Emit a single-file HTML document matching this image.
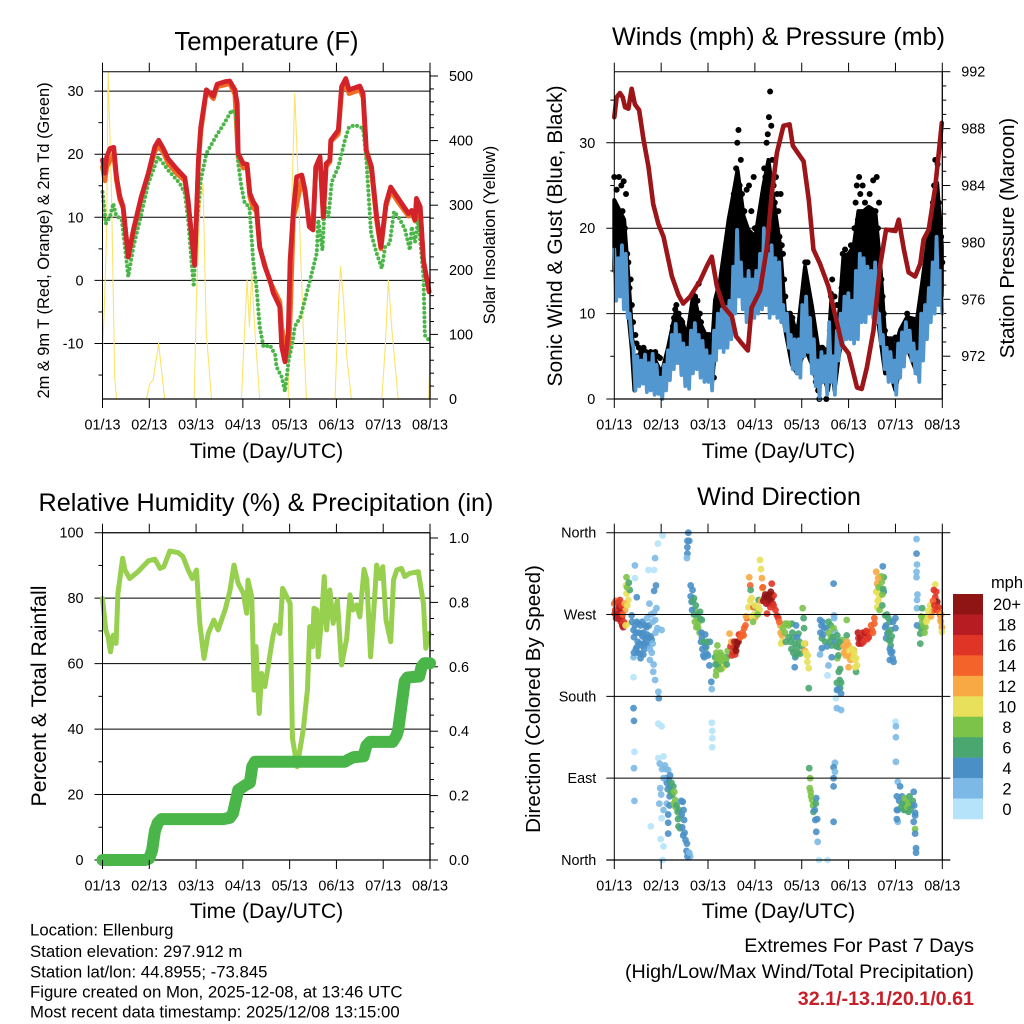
<!DOCTYPE html>
<html lang="en">
<head>
<meta charset="utf-8">
<title>Station Meteogram</title>
<style>
html,body{margin:0;padding:0;background:#fff;}
svg{display:block;font-family:"Liberation Sans",Arial,sans-serif;fill:#000;}
</style>
</head>
<body>
<svg id="chart" xmlns="http://www.w3.org/2000/svg" width="1024" height="1024" viewBox="0 0 1024 1024">
<rect x="0" y="0" width="1024" height="1024" fill="#fff"/>
<g id="g-tl"></g>
<g id="g-tr"></g>
<g id="g-bl"></g>
<g id="g-br"></g>

<text x="266.5" y="50" font-size="25.7" text-anchor="middle">Temperature (F)</text>
<text x="778.5" y="45" font-size="25.2" text-anchor="middle">Winds (mph) &amp; Pressure (mb)</text>
<text x="266" y="511" font-size="25.2" text-anchor="middle">Relative Humidity (%) &amp; Precipitation (in)</text>
<text x="779" y="505" font-size="25.2" text-anchor="middle">Wind Direction</text>

<text x="266.5" y="458" font-size="21.2" text-anchor="middle">Time (Day/UTC)</text>
<text x="778.5" y="458" font-size="21.2" text-anchor="middle">Time (Day/UTC)</text>
<text x="266.5" y="918" font-size="21.2" text-anchor="middle">Time (Day/UTC)</text>
<text x="778.5" y="918" font-size="21.2" text-anchor="middle">Time (Day/UTC)</text>

<text transform="translate(49,240.5) rotate(-90)" font-size="16.4" text-anchor="middle">2m &amp; 9m T (Red, Orange) &amp; 2m Td (Green)</text>
<text transform="translate(495,235) rotate(-90)" font-size="16.7" text-anchor="middle">Solar Insolation (Yellow)</text>
<text transform="translate(562,236) rotate(-90)" font-size="21" text-anchor="middle">Sonic Wind &amp; Gust (Blue, Black)</text>
<text transform="translate(1014,238) rotate(-90)" font-size="20.5" text-anchor="middle">Station Pressure (Maroon)</text>
<text transform="translate(46,696) rotate(-90)" font-size="21.3" text-anchor="middle">Percent &amp; Total Rainfall</text>
<text transform="translate(540,699) rotate(-90)" font-size="20.6" text-anchor="middle">Direction (Colored By Speed)</text>

<g font-size="16.75">
<text x="30" y="935.5">Location: Ellenburg</text>
<text x="30" y="957">Station elevation: 297.912 m</text>
<text x="30" y="977.5">Station lat/lon: 44.8955; -73.845</text>
<text x="30" y="997.5">Figure created on Mon, 2025-12-08, at 13:46 UTC</text>
<text x="30" y="1017.5">Most recent data timestamp: 2025/12/08 13:15:00</text>
</g>
<g text-anchor="end" font-size="19.7">
<text x="974" y="952">Extremes For Past 7 Days</text>
<text x="974" y="978">(High/Low/Max Wind/Total Precipitation)</text>
<text x="974" y="1005" font-weight="bold" fill="#c8202a">32.1/-13.1/20.1/0.61</text>
</g>
</svg>
<script>
/* ---------- shared axis labels ---------- */
const timeTicks = ["01/13","02/13","03/13","04/13","05/13","06/13","07/13","08/13"];

/* ---------- temperature panel ---------- */
const tempTicks = [30,20,10,0,-10];
const tempMinorTicks = [25,15,5,-5,-15];
const solarTicks = [500,400,300,200,100,0];
const solarMinorTicks = [480,460,440,420,380,360,340,320,280,260,240,220,180,160,140,120,80,60,40,20];

const redDays = [0,.05,.09,.16,.24,.30,.37,.44,.55,.66,.83,.98,1.12,1.20,1.30,1.40,1.58,1.76,1.83,1.90,1.97,2.05,2.10,2.22,2.37,2.45,2.62,2.72,2.83,2.88,2.90,3.01,3.09,3.15,3.22,3.29,3.36,3.47,3.58,3.65,3.79,3.83,3.90,3.97,4.01,4.08,4.15,4.26,4.33,4.42,4.50,4.56,4.65,4.72,4.78,4.86,4.88,5.04,5.11,5.20,5.27,5.50,5.57,5.64,5.75,5.86,5.95,6.06,6.16,6.32,6.54,6.61,6.68,6.71,6.79,6.86,6.98];
const redTemp = [19.1,17,19.6,20.9,21.1,16.4,13.3,11.7,3.7,8,13.3,17,21.2,22.2,20.9,19.3,17.7,16.3,12.7,7.4,2.4,19.1,24.3,30.2,29.2,31.1,31.5,31.6,30.2,28,20.1,18.5,18.4,13.8,12.5,11.7,5.3,2.2,0,-2,-4.2,-10.5,-12.9,-8.4,3.2,11.1,16.4,16.7,14.3,8.5,8,18,19.6,10.1,18.5,19.1,22.2,23.8,30.7,32,30.2,30.8,29.6,20.6,18,10.1,5.3,12.2,14.8,13,10.6,11.1,9.6,13,11.7,3.2,-1.8];

const orangeDays = [0,.05,.09,.16,.24,.30,.37,.44,.55,.66,.83,.98,1.12,1.20,1.30,1.40,1.58,1.76,1.83,1.90,1.97,2.05,2.10,2.22,2.37,2.45,2.62,2.72,2.83,2.90,3.01,3.09,3.15,3.22,3.29,3.36,3.47,3.58,3.79,3.83,3.90,3.97,4.01,4.08,4.15,4.26,4.33,4.42,4.50,4.56,4.65,4.72,4.78,4.86,4.88,5.04,5.11,5.20,5.27,5.50,5.57,5.64,5.75,5.86,5.95,6.06,6.16,6.32,6.54,6.61,6.68,6.79,6.86,6.98];
const orangeTemp = [18,15.8,18,19,20,15.8,12.8,11.5,3.8,7.5,13,16.7,20.5,21.2,20.3,18.6,17,15.8,12.2,7.2,2.6,18.5,23.5,30,28.8,30.7,31,31.2,29.5,19.5,17.8,18,13.2,11.5,11,5.3,2.4,-0.2,-3.4,-7.4,-10.5,-12,-6,10,12,16,13.8,9.2,9.2,18,19.2,9.8,18,18.8,22,23.2,30,31.3,29.6,30.2,29,20,17.3,9.5,5,11.8,14.2,12.4,10.2,10.7,9.4,11.5,3,-1.8];

const dewDays = [0,.07,.16,.23,.29,.41,.48,.55,.66,.80,.98,1.19,1.40,1.65,1.76,1.83,1.90,1.95,2.01,2.10,2.22,2.44,2.62,2.76,2.85,2.90,2.97,3.04,3.14,3.22,3.29,3.36,3.44,3.58,3.69,3.72,3.83,3.90,3.98,4.06,4.11,4.23,4.40,4.58,4.61,4.70,4.75,4.83,4.90,5.04,5.18,5.27,5.40,5.57,5.64,5.74,5.86,5.97,6.04,6.14,6.23,6.32,6.46,6.57,6.61,6.68,6.75,6.86,6.89,6.98];
const dewTemp = [14,9,10.1,12.2,10.3,9.6,5.3,.6,5.3,9.6,15.4,19.6,17.5,15.4,13.8,9.6,3.2,-1,8.5,15.9,20.1,23,25.1,27,26.2,18.5,14.8,12.2,11.7,3.2,-1,-7.3,-10.5,-10.3,-11.8,-13.7,-15.3,-17.6,-12.6,-10,-7.3,-5.8,-1,4.3,9.6,4.8,11.7,10.1,15.6,18,22.2,24.3,24.6,24.1,19.1,7.4,4.3,1.9,5.3,5.9,10.9,10.1,8.2,4.8,8.5,6.1,9.6,.6,-8.7,-9.5];

const solarDays = [0,.05,.09,.12,.16,.19,.23,.26,.30,.36,.94,1.01,1.08,1.20,1.26,1.33,1.96,2.01,2.08,2.15,2.19,2.22,2.33,2.97,3.04,3.09,3.14,3.19,3.25,3.36,3.97,4.03,4.11,4.16,4.22,4.29,4.36,4.97,5.04,5.09,5.15,5.22,5.32,5.97,6.04,6.11,6.18,6.32,6.97,6.99,7];
const solarWatts = [70,163,266,506,405,328,163,35,0,0,0,24,29,86,45,0,0,163,292,333,194,102,0,0,112,184,112,195,112,0,0,266,473,380,256,112,0,0,143,205,154,66,0,0,76,184,112,0,0,40,86];

/* ---------- winds panel ---------- */
const windTicks = [30,20,10,0];
const windMinorTicks = [35,25,15,5];
const pressureTicks = [992,988,984,980,976,972];
const pressureMinorTicks = [991,990,989,987,986,985,983,982,981,979,978,977,975,974,973,971,970];

/* sonic wind samples, evenly spaced through the 7 days */
const windMph = [17.5,11.5,16.5,12,18,10.5,17,9.5,10,7,6,1,5,1.5,4.5,1.8,5.2,.8,4.2,1,5.3,.5,4,.6,2.5,0,4,1,5.7,2.2,7.5,3.5,8.8,4.2,7.5,2.8,6.5,1.5,6,1.2,8,3,8.9,3.5,7.5,2.5,6.8,2,5.7,2,5,1,8,4.5,10,6,10.5,5.5,10.8,6,11.5,7,15.5,10,19.8,12,16,10.5,14,9,15,10,14,9.5,15,10,17,10.5,20,11,17,9.5,18,10,16.5,9.5,16,9,11,8,10,6,7.5,3.5,7,3,7,2.5,11,5,12,5.5,9.5,3,7,1.5,4.5,0,5.5,2,5,.5,9,2,5,.5,8,4.5,10,6,12,7,12.4,7,11.5,6.5,15,7,17,9,16.5,9,15.5,10,15,9.5,16,9,10,6.5,7.5,3.5,6,2,5.5,2,4.5,.5,6.5,2.5,7.8,3.8,9,5.5,8,4.5,6.5,3,5.5,2,10,4.5,11,7,13,9,16,10,19,11,15,10];

/* solid gust mass: sample times, top and bottom */
const gustCoreDays = [0,.12,.21,.30,.37,.43,.55,.69,.83,1.01,1.15,1.30,1.44,1.55,1.69,1.83,1.97,2.09,2.15,2.26,2.44,2.54,2.63,2.76,2.86,3.01,3.18,3.29,3.40,3.54,3.65,3.79,3.90,4.07,4.22,4.36,4.45,4.56,4.64,4.70,4.79,4.89,5.00,5.11,5.21,5.32,5.43,5.57,5.68,5.78,5.89,6.00,6.10,6.25,6.46,6.57,6.71,6.89,6.99];
const gustCoreTop = [23.3,22,21,14.3,8.5,2.6,5.4,5.4,5,3,6.1,10,9.3,7.3,12.4,8.9,7.3,6.5,11.6,14,21,24,26.8,21.4,19.8,19,24.9,28,23.3,17.9,9.6,9.6,7.3,15.5,10.8,5.7,6.1,5.4,12.4,8.5,9.3,16.7,17,17.9,22,22,22.5,22,15.5,7.3,6.9,6.1,8.1,9.6,9.3,13.6,19.4,25.3,17.9];
const gustCoreBottom = [15,15,15,10,6,1,3,3,3,.5,3,6,4,3,6,4,3,2,6,7,8,12,15,12,11,11,14,13,14,12,8,4,3,6,4,1,3,1,4,1,5,8,9,8,12,12,12,12,7,3,3,1,4,6,3,6,10,14,12];

/* gust samples, evenly spaced through the 7 days */
const gustMph = [26,19,24.5,21,26,18,25,22,25.5,20,24,17,16,13,14,11,9,6.5,7.5,6.5,5,6,4,5.5,4,6,4.5,5.5,5,5,4,5.5,3.5,5,3.5,5.5,3,5,3,4.8,2.5,2.5,1.5,3,2.8,4.5,5,4,6.5,7,8.5,9.5,10.5,11,8,10,7,8,9,6.5,7,6,5,6,8,9,7,11,9,12,10,11.5,13.5,10,9,7.5,6,7,5,7.5,6,7.5,5,3,4,2.5,8,10,11,9,12,10,13,11,14,12,15,13.5,20,16,22,18,24,21,27,30,31.5,25,28,24,20,22,18,24.5,17,25,19,22,16,26,20,16,18,15,21,17,19,24,27,26,30,31,33,36,32,28,25,23,26,24,22,19,24,18,17,14,12,10,9,8.5,10,7,9.5,7,7,5,6,8.5,5,7,8,10,12,16,13,16,12,9,8,6,5.5,4,2,3,1,0,2,6,4,5.5,3,0,2,5.5,8,12,14,10,12,8,11,6,7,9,13,17,14,17.5,13,15,12,14,18,15,17,20,23,25,21,26,24,18,25,20,23,18,22,19,24,18,21,25.6,17,22,26,20,23,17,14,12,10,8,6,5,7,5.5,7,4.5,7,5,7.2,4,5,3,7,8,6,7.5,6,8,10,8.5,8,9,7.5,9,6,8,5,7,8.5,6,9,10,12,13,15,14,17,16,20,19,23,25,28,24,27.5,23,21,19,16];

const pressureDays = [0,.05,.12,.18,.23,.30,.37,.44,.53,.62,.73,.83,.94,1.05,1.23,1.37,1.47,1.62,1.83,1.97,2.08,2.19,2.33,2.51,2.60,2.72,2.85,2.93,3.11,3.25,3.36,3.47,3.61,3.74,3.81,4.04,4.15,4.25,4.39,4.57,4.72,4.86,5.0,5.18,5.28,5.39,5.53,5.68,5.80,6.0,6.07,6.18,6.28,6.42,6.53,6.60,6.71,6.85,6.99];
const pressureMb = [988.8,990.2,990.5,990.2,989.5,989.4,990.8,989.7,989.3,987.3,985.3,982.7,981.3,980.4,977.6,976.3,975.7,976.2,977.3,978.3,979,976.9,975.5,974.8,973.4,972.9,972.4,975.4,976.6,979.5,983.4,986.3,988.2,988.3,986.8,985.7,983,979.5,978.5,976.9,974.8,972.8,972.2,969.8,969.7,971.2,973.8,978.5,980.9,980.8,981.6,979.5,977.9,977.6,978.5,980.2,980.9,983.9,988.4];

/* ---------- humidity panel ---------- */
const rhTicks = [100,80,60,40,20,0];
const rhMinorTicks = [90,70,50,30,10];
const rainTicks = ["1.0","0.8","0.6","0.4","0.2","0.0"];
const rainMinorTicks = [.95,.9,.85,.75,.7,.65,.55,.5,.45,.35,.3,.25,.15,.1,.05];

const rhDays = [0,.07,.12,.17,.23,.29,.33,.43,.48,.58,.76,.98,1.12,1.23,1.31,1.44,1.62,1.72,1.83,1.92,2.01,2.08,2.17,2.26,2.38,2.47,2.62,2.72,2.81,2.90,3.01,3.08,3.11,3.19,3.24,3.28,3.35,3.40,3.47,3.54,3.64,3.70,3.79,3.85,4.01,4.06,4.16,4.29,4.38,4.43,4.49,4.52,4.58,4.61,4.68,4.74,4.79,4.86,4.93,5.02,5.11,5.22,5.29,5.35,5.43,5.50,5.59,5.65,5.73,5.79,5.86,5.93,5.99,6.06,6.16,6.22,6.29,6.39,6.46,6.57,6.75,6.86,6.91,6.98];
const rhPercent = [79.9,70.3,68.2,63.6,68.7,66.2,81.5,92.2,88.6,86,88.1,91.4,91.9,89.1,89.6,94.4,93.9,92.7,88.6,86,88.6,72.3,61.6,69.2,73.3,70.3,76.4,82,90.1,84.5,81.5,75.4,85.5,80.4,51.9,65.2,44.8,57,53,59.1,68.2,71.8,69.2,83,78.4,37.2,28.5,39.7,51.9,71.3,65.2,76.9,76.4,62.1,73.3,86.6,70.3,82.5,72.3,79.4,59.6,67.7,81,76.4,77.9,74.3,88.8,85.5,62.1,74.3,90.1,86,89.6,73.3,66.7,85.5,88.6,89.1,86.6,87.6,88.1,78.4,64.7,69.2];

const rainDays = [0,.91,1.0,1.06,1.12,1.18,1.26,2.58,2.72,2.79,2.90,3.05,3.15,3.20,3.26,5.18,5.26,5.36,5.58,5.64,5.72,6.20,6.28,6.32,6.46,6.52,6.77,6.82,6.88,7];
const rainInches = [0,0,.005,.03,.09,.115,.127,.127,.131,.145,.217,.232,.24,.29,.305,.305,.312,.319,.322,.355,.367,.367,.385,.404,.555,.567,.57,.6,.611,.611];

/* ---------- wind direction panel ---------- */
const dirTicks = ["North","West","South","East","North"];
const speedLabels = ["20+","18","16","14","12","10","8","6","4","2","0"];
const speedColors = ["#8f1515","#b71c22","#e03426","#f4632a","#f8a944","#e8e05a","#7cc34a","#4aa770","#4a90c7","#7cb9e6","#b5e3f9"];

const dirDays = [0.01,.05,.09,.12,.16,.19,.04,.14,.23,.26,.26,.25,.33,.30,.28,0,
.37,.41,.51,.58,.62,.69,.55,.41,.48,.73,.80,.87,.90,.76,.83,.87,.41,.44,.44,.48,.73,.85,.93,.87,.89,.85,.75,1.03,.94,.95,1.01,.92,.41,.42,.43,.42,.43,.94,1.01,2.08,2.09,2.09,2.09,
.94,1.05,1.08,1.15,1.19,1.19,1.26,1.30,1.35,1.40,1.37,1.46,1.49,1.47,1.55,1.58,1.62,.98,.96,1.01,1.05,.78,1.15,1.15,.99,1.05,1.03,1.12,1.18,
1.58,1.56,1.60,1.56,1.56,1.55,
1.63,1.67,1.65,1.70,1.72,1.76,1.83,1.79,1.87,1.87,1.96,1.97,1.92,2.04,2.03,2.07,2.08,2.17,
2.20,2.15,2.20,2.31,2.36,2.26,2.40,2.19,2.27,
2.46,2.51,2.54,2.61,2.65,2.58,2.72,2.77,2.83,2.86,2.88,2.90,2.91,2.93,2.97,
3.01,3.04,3.08,3.11,3.13,3.15,3.16,3.20,3.29,3.36,3.36,3.33,3.26,3.40,3.47,3.50,3.10,
3.54,3.58,3.58,3.65,3.72,3.79,3.88,3.82,3.90,3.86,3.85,3.97,4.02,4.04,4.05,4.07,4.11,4.15,4.15,3.93,
4.16,4.18,4.17,4.22,4.25,4.31,4.29,4.31,4.34,4.37,4.55,
4.39,4.47,4.43,4.43,4.39,4.57,4.62,4.64,4.68,4.69,4.69,4.71,4.76,4.79,4.76,4.64,4.57,4.55,4.79,4.81,4.82,4.75,4.84,4.73,4.75,4.84,4.96,4.96,4.71,4.68,4.71,4.68,4.68,4.68,
4.93,5.00,5.11,5.00,5.14,5.00,5.18,5.16,4.89,4.86,
5.21,5.28,5.36,5.43,5.50,5.55,5.55,
5.59,5.61,5.73,5.75,5.71,5.68,5.59,5.64,5.75,5.61,5.66,
5.78,5.85,5.78,5.83,5.90,5.89,5.93,5.96,6.0,6.0,5.80,5.88,
6.0,6.01,6.01,6.01,6.05,6.10,
6.03,6.14,6.21,6.26,6.35,6.28,6.39,6.05,6.05,6.42,6.39,6.42,6.42,6.44,6.44,
6.45,6.45,6.46,6.45,6.45,6.47,6.46,6.46,
6.57,6.59,6.64,6.53,6.53,6.46,6.78,6.85,6.82,6.85,6.89,6.92,6.78,6.71,6.96,6.99,6.99,6.96,
.02,.03,.06,.08,.10,.11,.13,.15,.17,.18,.2,.22,.24,.27,.28,.31,
.38,.42,.44,.46,.48,.5,.52,.54,.56,.58,.6,.6,.62,.64,.66,.66,.68,.7,.7,.72,.74,.76,.78,.78,.8,.82,.82,.84,.85,.88,.5,.46,.42,.56,.62,
1.1,1.12,1.14,1.16,1.18,1.2,1.22,1.24,1.27,1.28,1.31,1.33,1.36,1.38,1.4,1.43,1.44,1.45,1.48,1.5,1.52,1.54,1.56,1.6,1.05,1.02,1.0,.97,1.1,1.15,
1.63,1.66,1.68,1.7,1.72,1.74,1.75,1.78,1.8,1.82,1.84,1.85,1.88,1.9,1.9,1.94,1.98,2,1.86,1.94,
2.18,2.22,2.24,2.26,2.29,2.3,2.33,2.34,2.38,2.22,2.28,2.16,2.18,2.4,2.42,
2.48,2.5,2.53,2.56,2.58,2.6,2.62,2.66,2.69,2.74,2.76,2.8,2.81,
2.9,2.94,2.96,2.98,3.0,3.06,3.08,3.13,3.17,3.18,3.22,3.24,3.26,3.3,3.32,3.34,3.38,3.4,3.44,3.52,
3.55,3.56,3.6,3.64,3.66,3.7,3.72,3.76,3.78,3.82,3.85,3.88,3.9,3.92,3.95,4.0,4.05,4.07,4.09,4.12,4.13,3.8,
4.4,4.42,4.44,4.46,4.5,4.52,4.54,4.58,4.6,4.62,4.66,4.68,4.72,4.74,4.78,4.8,4.82,4.84,4.75,4.78,
4.9,4.94,4.97,5.02,5.04,5.06,5.08,5.1,5.12,5.16,5.14,
5.2,5.22,5.25,5.3,5.32,5.34,5.38,5.4,5.45,5.48,5.52,
5.6,5.62,5.64,5.66,5.7,5.72,5.74,5.63,5.72,
5.8,5.82,5.85,5.86,5.88,5.9,5.9,5.92,5.94,5.95,5.88,
6.08,6.12,6.15,6.18,6.2,6.22,6.25,6.28,6.3,6.32,6.37,6.4,6.42,6.03,6.03,
6.55,6.55,6.57,6.6,6.62,6.66,6.68,6.7,6.74,6.76,6.8,6.83,6.87,6.88,6.94,6.97,6.98,
4.19,4.2,4.24,4.28,4.3,4.33];
const dirDegrees = [271,282,275,286,267,256,266,262,275,293,311,302,297,286,260,282,
269,253,260,249,238,256,227,223,234,245,242,264,277,220,207,198,201,324,310,289,319,319,348,332,302,296,282,357,185,178,253,255,167,153,119,101,65,150,147,151,142,134,124,
112,114,104,99,93,81,81,66,53,48,37,64,44,27,18,7,4,79,62,46,55,37,41,29,23,15,0,62,70,
360,351,351,344,337,332,
302,297,284,288,275,267,273,256,264,245,234,227,223,240,214,196,188,203,
236,223,216,218,214,211,223,220,222,
249,225,234,236,240,233,247,255,266,278,311,302,297,288,278,
267,277,286,330,320,310,299,288,282,288,304,278,271,291,269,266,275,
258,247,240,260,258,260,258,245,234,223,212,227,277,266,255,238,225,211,189,249,
101,90,79,66,53,68,44,31,20,0,0,
264,256,244,233,226,262,245,236,304,269,266,251,247,234,222,223,214,203,207,198,189,187,183,178,167,165,264,247,107,102,97,90,81,42,
233,236,231,223,220,212,214,207,236,242,
244,238,247,245,253,260,266,
317,304,323,311,306,299,295,286,295,278,275,
269,266,256,249,253,242,229,218,266,255,244,220,
152,147,135,108,86,81,
70,70,62,64,60,53,75,55,42,49,42,34,29,13,8,
353,337,325,317,311,292,286,277,
277,267,256,249,238,258,278,303,297,289,284,278,273,269,269,256,251,264,
275,285,270,283,265,278,272,280,258,270,262,282,258,300,280,305,
262,245,258,250,262,240,250,238,258,236,246,262,250,232,244,258,240,248,266,236,258,232,246,270,228,262,238,215,272,250,228,232,228,222,226,
90,85,78,88,60,75,85,72,62,75,58,60,45,55,35,65,50,36,55,30,22,10,4,8,90,100,72,106,100,50,
290,275,285,270,262,280,256,270,262,250,265,240,232,240,225,235,240,225,250,248,
228,225,218,228,216,225,212,222,220,212,210,215,208,215,230,
235,240,228,240,226,230,240,248,245,250,247,258,268,
285,268,262,270,280,270,278,285,300,285,292,282,290,292,286,295,282,280,275,262,
250,238,255,250,240,260,245,240,232,228,238,225,245,228,240,235,238,230,228,218,225,250,
250,258,262,248,240,255,235,250,240,258,245,255,240,235,225,240,210,195,195,188,
228,225,240,230,220,225,232,222,228,222,212,
250,238,244,250,240,250,252,243,250,258,250,
295,285,300,290,312,292,298,310,280,
258,270,250,242,262,236,228,246,222,262,232,
65,58,62,55,68,55,58,62,70,56,65,60,52,55,45,
268,255,262,258,250,262,265,274,280,268,285,280,295,275,272,262,270,
75,70,60,55,62,45];
const dirSpeed = [16,14,18,15,18,17,17,16,12,9,7,9,6,10,10,13,
4,4,4,4,4,3,4,2,4,4,3,2,2,2,1,1,0,1,0,3,0,0,0,1,3,3,1,0,1,3,1,2,3,3,0,1,1,0,0,0,0,0,0,
0,0,1,2,4,4,6,8,6,7,6,4,4,4,3,2,1,2,1,0,1,0,3,3,0,0,0,2,3,
4,4,4,4,4,1,
4,4,3,5,7,8,6,8,5,4,6,4,4,3,3,4,1,7,
7,6,8,10,10,6,6,7,8,
11,15,17,19,19,19,14,14,13,10,12,14,6,9,14,
11,8,6,10,10,12,12,20,19,20,16,16,15,15,15,16,9,
12,12,10,7,8,6,4,5,6,4,4,6,8,6,6,12,10,10,6,5,
6,7,7,8,6,4,4,4,2,0,0,
3,4,5,4,2,5,8,6,3,1,1,2,6,6,7,4,1,0,6,6,5,3,4,0,2,2,7,6,1,3,1,4,3,3,
11,12,11,10,10,11,10,6,12,7,
16,15,16,15,14,13,14,
12,11,4,6,8,8,10,10,4,10,7,
5,5,4,4,6,6,4,4,4,4,4,3,
0,1,2,1,2,4,
3,4,6,8,6,6,4,3,2,4,4,7,4,4,4,
1,4,2,2,1,2,1,1,
6,7,8,6,6,3,10,10,15,16,19,16,14,10,14,12,10,12,
16,13,18,15,17,18,17,16,18,14,15,11,10,8,9,6,
4,4,4,3,4,4,4,4,3,4,3,4,4,4,3,3,4,3,2,3,3,2,3,2,2,2,2,1,2,2,3,3,3,3,4,
3,3,3,4,3,5,6,6,8,7,7,6,6,6,6,4,4,4,4,4,4,3,3,2,1,1,1,1,2,3,
4,3,5,6,7,6,8,6,7,7,5,4,4,5,4,4,5,4,4,4,
7,8,8,8,8,7,9,8,8,6,7,6,7,6,8,
16,12,16,18,16,19,19,15,14,14,14,13,12,
10,9,7,10,9,8,10,11,13,19,20,18,21,19,20,19,17,16,15,14,
12,10,8,7,6,7,6,6,6,5,6,6,4,5,5,6,10,11,10,10,10,6,
4,3,4,4,5,4,4,7,6,6,5,8,4,6,5,6,6,5,5,3,
12,12,12,10,11,11,10,10,10,10,10,
17,17,17,16,15,17,15,16,15,14,13,
10,10,8,10,8,7,6,11,5,
4,5,5,6,5,6,4,6,4,4,4,
4,5,6,6,7,6,7,8,6,6,5,4,4,3,3,
7,6,7,8,8,9,10,9,10,12,14,15,16,16,14,12,11,
7,8,7,4,5,3];

/* ---------- drawing helpers ---------- */
const NS = "http://www.w3.org/2000/svg";
const TICK_FONT = 14.4;
function mk(parent, tag, name, attrs) {
  const el = document.createElementNS(NS, tag);
  
  
  for (const k in attrs) el.setAttribute(k, attrs[k]);
  parent.appendChild(el);
  return el;
}
function linear(d0, d1, r0, r1) {
  return v => r0 + (v - d0) * (r1 - r0) / (d1 - d0);
}
function seg(parent, name, x1, y1, x2, y2, w) {
  return mk(parent, 'line', name, {x1, y1, x2, y2, stroke: '#000', 'stroke-width': w || 1});
}
function label(parent, name, x, y, txt, anchor, size) {
  const t = mk(parent, 'text', name, {x, y, 'font-size': size || TICK_FONT, 'text-anchor': anchor});
  t.textContent = txt;
  return t;
}
function pathOf(days, vals, sx, sy) {
  return days.map((d, i) => (i ? 'L' : 'M') + sx(d).toFixed(2) + ' ' + sy(vals[i]).toFixed(2)).join('');
}
function series(parent, name, days, vals, sx, sy, color, width, extra) {
  const attrs = Object.assign({d: pathOf(days, vals, sx, sy), fill: 'none', stroke: color, 'stroke-width': width, 'stroke-linejoin': 'round', 'stroke-linecap': 'round'}, extra || {});
  return mk(parent, 'path', name, attrs);
}
function band(parent, name, days, hi, lo, sx, sy, color, width) {
  const top = days.map((d, i) => (i ? 'L' : 'M') + sx(d).toFixed(2) + ' ' + sy(hi[i]).toFixed(2)).join('');
  const bot = days.map((d, i) => 'L' + sx(days[days.length - 1 - i]).toFixed(2) + ' ' + sy(lo[days.length - 1 - i]).toFixed(2)).join('');
  return mk(parent, 'path', name, {d: top + bot + 'Z', fill: color, stroke: color, 'stroke-width': width, 'stroke-linejoin': 'round'});
}
function timeAxis(parent, box, sx) {
  timeTicks.forEach((lab, i) => {
    const x = sx(i);
    seg(parent, 'top-tick', x, box.top - 9, x, box.top);
    seg(parent, 'bottom-tick', x, box.bottom, x, box.bottom + 9);
    label(parent, 'x-tick-label', x, box.bottom + 30.5, lab, 'middle');
  });
}
function frame(parent, box) {
  seg(parent, 'frame-left', box.left, box.top, box.left, box.bottom);
  seg(parent, 'frame-right', box.right, box.top, box.right, box.bottom, 1.3);
  seg(parent, 'frame-top', box.left, box.top, box.right, box.top);
  seg(parent, 'frame-bottom', box.left, box.bottom, box.right, box.bottom, 1.3);
}

/* ---------- temperature panel ---------- */
(function () {
  const g = document.getElementById('g-tl');
  const box = {left: 102.5, right: 430, top: 71.7, bottom: 399};
  const sx = linear(0, 7, box.left, box.right);
  const sy = linear(0, 10, 280.4, 217.3);
  const sr = linear(0, 500, 399, 76);
  tempTicks.forEach(v => {
    seg(g, 'temperature-gridline', box.left - 8, sy(v), box.right, sy(v));
    label(g, 'temperature-tick-label', box.left - 19, sy(v) + 5, String(v), 'end');
  });
  tempMinorTicks.forEach(v => seg(g, 'temperature-minor-tick', box.left - 4, sy(v), box.left, sy(v)));
  solarTicks.forEach(v => {
    seg(g, 'solar-tick', box.right, sr(v), box.right + 8, sr(v));
    label(g, 'solar-tick-label', box.right + 19, sr(v) + 5, String(v), 'start');
  });
  solarMinorTicks.forEach(v => seg(g, 'solar-minor-tick', box.right, sr(v), box.right + 4, sr(v)));
  series(g, 'solar-insolation-line', solarDays, solarWatts, sx, sr, '#fbe36a', 1.1);
  series(g, 'temperature-9m-line', orangeDays, orangeTemp, sx, sy, '#f26c22', 4.8);
  series(g, 'dew-point-line', dewDays, dewTemp, sx, sy, '#4ab548', 4, {'stroke-dasharray': '0 4.6'});
  series(g, 'temperature-2m-line', redDays, redTemp, sx, sy, '#d2232a', 4.8);
  frame(g, box);
  timeAxis(g, box, sx);
})();

/* ---------- winds panel ---------- */
(function () {
  const g = document.getElementById('g-tr');
  const box = {left: 614.3, right: 942.3, top: 71.7, bottom: 399};
  const sx = linear(0, 7, box.left, box.right);
  const sy = linear(0, 10, 399, 313.6);
  const sp = linear(972, 992, 356.2, 71.7);
  windTicks.forEach(v => {
    seg(g, 'wind-gridline', box.left - 8, sy(v), box.right, sy(v));
    label(g, 'wind-tick-label', box.left - 19, sy(v) + 5, String(v), 'end');
  });
  windMinorTicks.forEach(v => seg(g, 'wind-minor-tick', box.left - 4, sy(v), box.left, sy(v)));
  pressureTicks.forEach(v => {
    seg(g, 'pressure-tick', box.right, sp(v), box.right + 8, sp(v));
    label(g, 'pressure-tick-label', box.right + 19, sp(v) + 5, String(v), 'start');
  });
  pressureMinorTicks.forEach(v => seg(g, 'pressure-minor-tick', box.right, sp(v), box.right + 4, sp(v)));
  band(g, 'gust-core', gustCoreDays, gustCoreTop, gustCoreBottom, sx, sy, '#000', 4);
  const gustGroup = mk(g, 'g', 'gust-points', {fill: '#000'});
  gustMph.forEach((v, i) => {
    mk(gustGroup, 'circle', 'gust-point', {cx: sx(i * 7 / (gustMph.length - 1)), cy: sy(v), r: 3});
  });
  const windDays = windMph.map((v, i) => i * 7 / (windMph.length - 1));
  series(g, 'sonic-wind-line', windDays, windMph, sx, sy, '#5297d0', 3.8);
  series(g, 'pressure-line', pressureDays, pressureMb, sx, sp, '#9c1518', 4.6);
  frame(g, box);
  timeAxis(g, box, sx);
})();

/* ---------- humidity panel ---------- */
(function () {
  const g = document.getElementById('g-bl');
  const box = {left: 102.5, right: 430, top: 532.7, bottom: 860};
  const sx = linear(0, 7, box.left, box.right);
  const sy = linear(0, 100, box.bottom, box.top);
  const sr = linear(0, 1, box.bottom, 538);
  rhTicks.forEach(v => {
    seg(g, 'humidity-gridline', box.left - 8, sy(v), box.right, sy(v));
    label(g, 'humidity-tick-label', box.left - 19, sy(v) + 5, String(v), 'end');
  });
  rhMinorTicks.forEach(v => seg(g, 'humidity-minor-tick', box.left - 4, sy(v), box.left, sy(v)));
  rainTicks.forEach(v => {
    const y = sr(parseFloat(v));
    seg(g, 'rainfall-tick', box.right, y, box.right + 8, y);
    label(g, 'rainfall-tick-label', box.right + 19, y + 5, v, 'start');
  });
  rainMinorTicks.forEach(v => seg(g, 'rainfall-minor-tick', box.right, sr(v), box.right + 4, sr(v)));
  series(g, 'relative-humidity-line', rhDays, rhPercent, sx, sy, '#97cf4f', 5);
  frame(g, box);
  series(g, 'total-precipitation-line', rainDays, rainInches, sx, sr, '#4ab548', 12);
  timeAxis(g, box, sx);
})();

/* ---------- wind direction panel ---------- */
(function () {
  const g = document.getElementById('g-br');
  const box = {left: 614.3, right: 942.3, top: 532.7, bottom: 860};
  const sx = linear(0, 7, box.left, box.right);
  const sy = linear(0, 360, box.bottom, box.top);
  const dots = mk(g, 'g', 'direction-points', {});
  dirDays.forEach((d, i) => {
    const band = Math.max(0, 10 - Math.round(dirSpeed[i] / 2));
    mk(dots, 'circle', 'direction-point', {cx: sx(d), cy: sy(dirDegrees[i]), r: 3.4, fill: speedColors[band], 'fill-opacity': 0.9});
  });
  dirTicks.forEach((lab, i) => {
    const y = sy(360 - i * 90);
    seg(g, 'direction-gridline', box.left - 8, y, box.right + 8, y, i === 4 ? 1.3 : 1);
    label(g, 'direction-tick-label', box.left - 18, y + 5, lab, 'end');
  });
  seg(g, 'frame-left', box.left, box.top, box.left, box.bottom);
  seg(g, 'frame-right', box.right, box.top, box.right, box.bottom, 1.3);
  timeAxis(g, box, sx);

  const legend = mk(g, 'g', 'speed-legend', {});
  const barTop = 594, cellH = 225 / speedColors.length;
  label(legend, 'legend-unit', 1007, 588, 'mph', 'middle', 16.5);
  speedColors.forEach((c, i) => {
    mk(legend, 'rect', 'legend-swatch', {x: 953, y: barTop + i * cellH, width: 30, height: cellH + 0.3, fill: c});
    label(legend, 'legend-label', 1007, barTop + i * cellH + cellH / 2 + 6, speedLabels[i], 'middle', 16.5);
  });
})();
</script>
</body>
</html>
